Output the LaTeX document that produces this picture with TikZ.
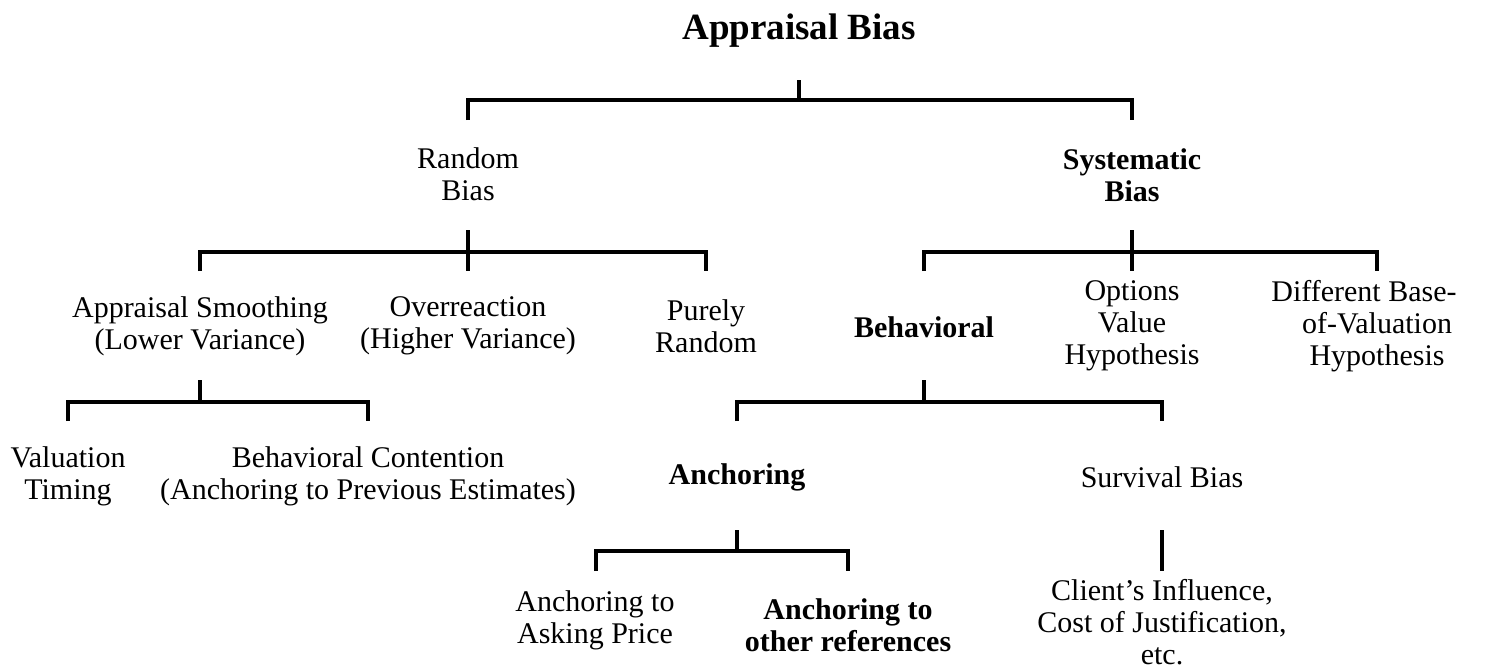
\documentclass[tikz,border=0pt]{standalone}
\usepackage{fontspec}
\setmainfont{Liberation Serif}
\begin{document}
\begin{tikzpicture}[x=1pt,y=-1pt,
  lbl/.style={align=center, font=\fontsize{30}{32}\selectfont, inner sep=0pt},
  blbl/.style={lbl, font=\fontsize{30}{32}\selectfont\bfseries},
  conn/.style={line width=3.2pt}]
\useasboundingbox (0,0) rectangle (1487,669);

% nodes
\node[blbl, font=\fontsize{37}{40}\selectfont\bfseries] (root) at (799,31) {Appraisal Bias};
\node[lbl]  (random) at (468,174) {Random\\Bias};
\node[blbl] (system) at (1132,175) {Systematic\\Bias};
\node[lbl]  (smooth) at (200,326) {Appraisal Smoothing\\(Lower Variance)};
\node[lbl]  (over) at (468,326) {Overreaction\\(Higher Variance)};
\node[lbl]  (purely) at (706,326) {Purely\\Random};
\node[blbl] (behav) at (924,327) {Behavioral};
\node[lbl]  (options) at (1132,326) {Options\\Value\\Hypothesis};
\node[lbl]  (diff) at (1377,326) {Different Base-\hspace*{26pt}\\of-Valuation\\Hypothesis};
\node[lbl]  (valtim) at (68,476) {Valuation\\Timing};
\node[lbl]  (contention) at (368,476) {Behavioral Contention\\(Anchoring to Previous Estimates)};
\node[blbl] (anchor) at (737,477) {Anchoring};
\node[lbl]  (surv) at (1162,477) {Survival Bias};
\node[lbl]  (asking) at (595,620) {Anchoring to\\Asking Price};
\node[blbl] (other) at (848,625) {Anchoring to\\other references};
\node[lbl]  (client) at (1162,622) {Client's Influence,\\Cost of Justification,\\etc.};

% connector end points
\coordinate (root-o) at (799,80);
\coordinate (random-i) at (468,120);
\coordinate (system-i) at (1132,120);
\coordinate (random-o) at (468,230);
\coordinate (smooth-i) at (200,271);
\coordinate (over-i) at (468,271);
\coordinate (purely-i) at (706,271);
\coordinate (system-o) at (1132,230);
\coordinate (behav-i) at (924,271);
\coordinate (options-i) at (1132,271);
\coordinate (diff-i) at (1377,271);
\coordinate (smooth-o) at (200,380);
\coordinate (valtim-i) at (68,421);
\coordinate (contention-i) at (368,421);
\coordinate (behav-o) at (924,380);
\coordinate (anchor-i) at (737,421);
\coordinate (surv-i) at (1162,421);
\coordinate (anchor-o) at (737,530);
\coordinate (asking-i) at (596,571);
\coordinate (other-i) at (848,571);
\coordinate (surv-o) at (1162,530);
\coordinate (client-i) at (1162,571);

% brackets
\draw[conn] (root-o) -- ++(0,20);
\draw[conn] (random-i) -- ++(0,-20) -| (system-i);

\draw[conn] (random-o) -- (over-i);
\draw[conn] (smooth-i) -- ++(0,-19) -| (purely-i);

\draw[conn] (system-o) -- (options-i);
\draw[conn] (behav-i) -- ++(0,-19) -| (diff-i);

\draw[conn] (smooth-o) -- ++(0,22);
\draw[conn] (valtim-i) -- ++(0,-19) -| (contention-i);

\draw[conn] (behav-o) -- ++(0,22);
\draw[conn] (anchor-i) -- ++(0,-19) -| (surv-i);

\draw[conn] (anchor-o) -- ++(0,21);
\draw[conn] (asking-i) -- ++(0,-20) -| (other-i);

\draw[conn] (surv-o) -- (client-i);
\end{tikzpicture}
\end{document}
